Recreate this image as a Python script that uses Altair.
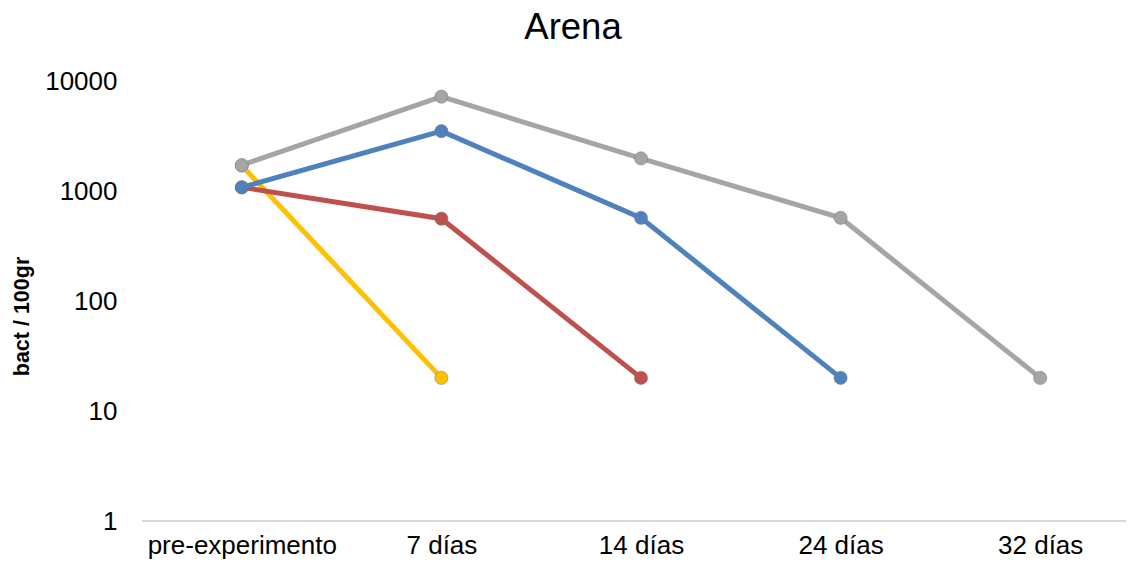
import altair as alt
import pandas as pd

categories = ["pre-experimento", "7 días", "14 días", "24 días", "32 días"]
series_names = ["Serie 4", "Serie 3", "Serie 2", "Serie 1"]  # drawing order: bottom to top
series_colors = ["#FFC000", "#C0504D", "#4F81BD", "#A5A5A5"]
serie_4 = [1700, 20]
serie_3 = [1080, 560, 20]
serie_2 = [1080, 3500, 570, 20]
serie_1 = [1720, 7200, 1980, 570, 20]
y_ticks = [1, 10, 100, 1000, 10000]
chart_title = "Arena"

all_values = [serie_4, serie_3, serie_2, serie_1]

FONT = "Liberation Sans"
W, H = 984, 440

cat_array = "[" + ",".join("'" + c + "'" for c in categories) + "]"
x_scale = alt.Scale(domain=[-0.5, 4.43], nice=False, zero=False)
y_scale = alt.Scale(type="log", domain=[1, 10000], nice=False)

layers = []
for name, color, vals in zip(series_names, series_colors, all_values):
    df = pd.DataFrame({"idx": list(range(len(vals))), "cat": categories[:len(vals)],
                       "val": vals, "serie": name})
    base = alt.Chart(df).encode(
        x=alt.X("idx:Q", scale=x_scale,
                axis=alt.Axis(title=None, values=list(range(len(categories))),
                              labelExpr=cat_array + "[datum.value]",
                              labelAngle=0, domain=False, ticks=False, grid=False,
                              labelFont=FONT, labelFontSize=26, labelColor="#000000",
                              labelPadding=11, labelBaseline="top", labelLimit=0,
                              labelFlush=False, labelOverlap=False)),
        y=alt.Y("val:Q", scale=y_scale,
                axis=alt.Axis(title="bact / 100gr", values=y_ticks, format="d",
                              grid=False, domain=False, ticks=False,
                              labelFont=FONT, labelFontSize=26, labelColor="#000000",
                              labelPadding=25,
                              titleFont=FONT, titleFontSize=21.5, titleFontWeight="bold",
                              titleColor="#000000", titleAngle=270, titleX=-120, titleY=235,
                              titleAlign="center", titleBaseline="middle")),
    )
    layers.append(base.mark_line(color=color, strokeWidth=5))
    layers.append(base.mark_point(color=color, filled=True, size=175, opacity=1,
                                  stroke="#777777", strokeWidth=0.5))

axis_line = alt.Chart(pd.DataFrame({"v": [0]})).mark_rule(color="#D9D9D9", strokeWidth=2).encode(
    x=alt.value(0), x2=alt.value(W), y=alt.value(H)
)

title_text = alt.Chart(pd.DataFrame({"t": [chart_title]})).mark_text(
    font=FONT, fontSize=36.5, color="#000000", align="center", baseline="alphabetic"
).encode(text="t:N", x=alt.value(431), y=alt.value(-42))

chart = alt.layer(axis_line, title_text, *layers).properties(
    width=W, height=H,
    autosize=alt.AutoSizeParams(type="none"),
    padding={"left": 134, "top": 73, "right": 0, "bottom": 41},
).configure_view(stroke=None)

chart.save("out.html", embed_options={"renderer": "svg", "actions": False})
